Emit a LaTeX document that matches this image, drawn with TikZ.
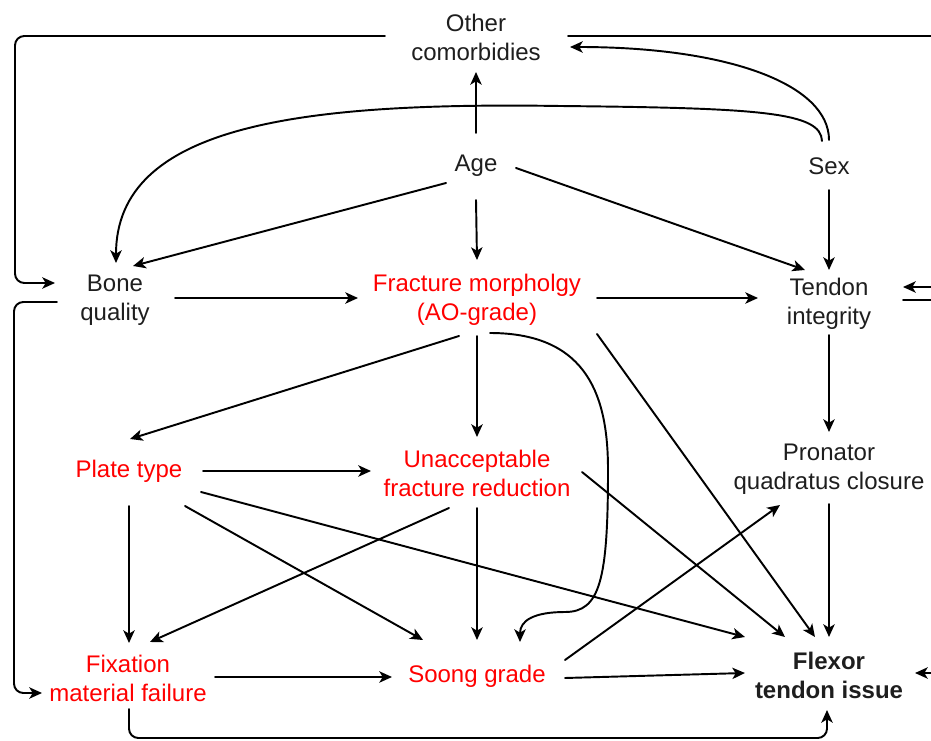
\documentclass[tikz,border=0pt]{standalone}
\usepackage{fontspec}
\setmainfont{Liberation Sans}
\usetikzlibrary{arrows.meta,calc}
\definecolor{txt}{RGB}{30,30,30}
\begin{document}
\begin{tikzpicture}[x=0.75pt,y=-0.75pt,
  lbl/.style={align=center,inner sep=0pt,font=\fontsize{18}{21.75}\selectfont,text=txt},
  redlbl/.style={lbl,text=red},
  conn/.style={line width=1.45pt,line cap=round,-{Stealth[length=9.5pt,width=8.5pt,inset=2.5pt]}},
  loop/.style={conn,rounded corners=7},
]
\clip (0,0) rectangle (931,741);
% nodes
\node[lbl] (other) at (476,37) {Other\\comorbidies};
\node[lbl] (age) at (476,166) {Age};
\node[lbl] (sex) at (829,166) {Sex};
\node[lbl] (bone) at (115,300) {Bone\\quality};
\node[redlbl] (frac) at (477,300) {Fracture morpholgy\\(AO-grade)};
\node[lbl] (tend) at (829,304) {Tendon\\integrity};
\node[redlbl] (plate) at (129,471) {Plate type};
\node[redlbl] (unacc) at (477,473) {Unacceptable\\fracture reduction};
\node[lbl] (pron) at (829,469) {Pronator\\quadratus closure};
\node[redlbl] (fix) at (128,678) {Fixation\\material failure};
\node[redlbl] (soong) at (477,676) {Soong grade};
\node[lbl,font=\fontsize{18}{21.75}\selectfont\bfseries] (flex) at (829,675) {Flexor\\tendon issue};
% edges
\draw[conn] ($(age)+(0,-33)$) -- ($(other)+(0,35)$);
\draw[conn] ($(age)+(-30,17)$) -- ($(bone)+(18,-34)$);
\draw[conn] ($(age)+(0,34)$) -- ($(frac)+(0,-40)$);
\draw[conn] ($(age)+(40,2)$) -- ($(tend)+(-24,-34)$);
\draw[conn] ($(sex)+(0,24)$) -- ($(tend)+(0,-34)$);
\draw[conn] ($(sex)+(0,-26)$) .. controls (829,85) and (730,47) .. ($(other)+(94,10)$);
\draw[conn] ($(sex)+(-7,-25)$) .. controls (821,112) and (760,108) .. (560,106)
   .. controls (300,102) and (116,125) .. ($(bone)+(1,-37)$);
\draw[loop] ($(other)+(-91,-1)$) -| ($(bone)+(-100,-17)$) -- ($(bone)+(-60,-17)$);
\draw[loop] ($(other)+(92,-1)$) -- (960,36) |- ($(tend)+(74,-17)$);
\draw[loop] ($(bone)+(-58,2)$) -| ($(fix)+(-114,15)$) -- ($(fix)+(-86,15)$);
\draw[conn] ($(bone)+(60,-2)$) -- ($(frac)+(-119,-2)$);
\draw[conn] ($(frac)+(120,-2)$) -- ($(tend)+(-71,-6)$);
\draw[conn] ($(frac)+(-18,36)$) -- ($(plate)+(1,-32)$);
\draw[conn] ($(frac)+(0,36)$) -- ($(unacc)+(0,-36)$);
\draw[conn] ($(frac)+(13,33)$) .. controls (590,333) and (608,400) .. (608,470)
   .. controls (608,580) and (600,612) .. (565,612)
   .. controls (535,612) and (520,620) .. ($(soong)+(43,-34)$);
\draw[conn] ($(frac)+(120,34)$) -- ($(flex)+(-14,-38)$);
\draw[conn] ($(tend)+(0,31)$) -- ($(pron)+(0,-37)$);
\draw[conn] ($(plate)+(74,0)$) -- ($(unacc)+(-106,-2)$);
\draw[conn] ($(plate)+(0,35)$) -- ($(fix)+(1,-35)$);
\draw[conn] ($(plate)+(56,35)$) -- ($(soong)+(-54,-36)$);
\draw[conn] ($(plate)+(72,21)$) -- ($(flex)+(-84,-38)$);
\draw[conn] ($(unacc)+(-28,35)$) -- ($(fix)+(22,-36)$);
\draw[conn] ($(unacc)+(0,35)$) -- ($(soong)+(0,-36)$);
\draw[conn] ($(unacc)+(105,-1)$) -- ($(flex)+(-44,-38)$);
\draw[conn] ($(pron)+(0,35)$) -- ($(flex)+(0,-38)$);
\draw[conn] ($(soong)+(88,2)$) -- ($(flex)+(-84,-2)$);
\draw[conn] ($(soong)+(88,-16)$) -- ($(pron)+(-49,36)$);
\draw[conn] ($(fix)+(87,-1)$) -- ($(soong)+(-85,1)$);
\draw[loop] ($(fix)+(1,31)$) |- ($(flex)+(-2,63)$) -- ($(flex)+(-2,35)$);
\draw[loop] ($(tend)+(74,-4)$) -- (960,300) |- ($(flex)+(86,-2)$);
\end{tikzpicture}
\end{document}
